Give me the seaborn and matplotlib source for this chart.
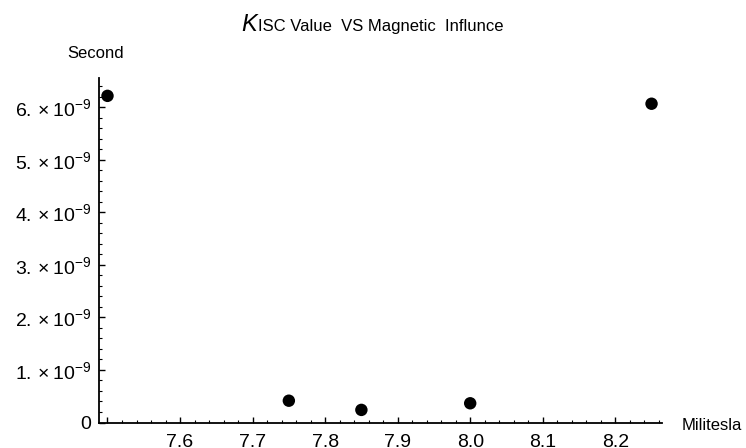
import matplotlib
matplotlib.use("Agg")
import matplotlib.pyplot as plt
import seaborn as sns
import pandas as pd
from matplotlib.ticker import FixedLocator, FuncFormatter, MultipleLocator

# Data
field_mt = [7.5, 7.75, 7.85, 8.0, 8.25]
kisc_sec = [6.22e-9, 0.415e-9, 0.24e-9, 0.366e-9, 6.07e-9]
x_major = [7.5, 7.6, 7.7, 7.8, 7.9, 8.0, 8.1, 8.2]
x_labels = ["", "7.6", "7.7", "7.8", "7.9", "8.0", "8.1", "8.2"]
y_major = [0, 1e-9, 2e-9, 3e-9, 4e-9, 5e-9, 6e-9]

df = pd.DataFrame({"Militesla": field_mt, "Second": kisc_sec})

sns.set_theme(style="white")
plt.rcParams["font.family"] = ["Liberation Sans", "DejaVu Sans"]
plt.rcParams["mathtext.fontset"] = "custom"
plt.rcParams["mathtext.rm"] = "Liberation Sans"
plt.rcParams["mathtext.it"] = "Liberation Sans:italic"
plt.rcParams["text.color"] = "black"
plt.rcParams["xtick.color"] = "black"
plt.rcParams["ytick.color"] = "black"

W, H = 746, 448
fig = plt.figure(figsize=(W / 100, H / 100), dpi=100)
left, right, bottom, top = 98.5, 661.7, 422.5, 78
ax = fig.add_axes([left / W, 1 - bottom / H, (right - left) / W, (bottom - top) / H])

sns.scatterplot(data=df, x="Militesla", y="Second", ax=ax, color="black",
                s=80, edgecolor="none", clip_on=False, zorder=5)

ax.set_xlim(7.4876, 8.264)
ax.set_ylim(0, 6.56e-9)

for s in ["top", "right"]:
    ax.spines[s].set_visible(False)
for s in ["left", "bottom"]:
    ax.spines[s].set_color("black")
    ax.spines[s].set_linewidth(1.3)

ax.xaxis.set_major_locator(FixedLocator(x_major))
ax.set_xticklabels(x_labels)
ax.xaxis.set_minor_locator(MultipleLocator(0.02))
ax.yaxis.set_major_locator(FixedLocator(y_major))
ax.yaxis.set_minor_locator(MultipleLocator(0.2e-9))


def yfmt(v, pos):
    n = round(v / 1e-9)
    if n == 0:
        return "0"
    return r"$%d.\times 10^{-9}$" % n


ax.yaxis.set_major_formatter(FuncFormatter(yfmt))
ax.tick_params(axis="both", which="major", direction="in", length=4, width=1,
               color="black", labelsize=14, labelcolor="black")
ax.tick_params(axis="both", which="minor", direction="in", length=2.5, width=0.8,
               color="black")
ax.tick_params(axis="x", which="major", pad=8)
ax.tick_params(axis="y", which="major", pad=5)
ax.tick_params(which="both", bottom=True, left=True)

ax.set_xlabel("")
ax.set_ylabel("")

fig.text(96 / W, 1 - 54 / H, "Second", ha="center", va="center", fontsize=12)
fig.text(682 / W, 1 - 425 / H, "Militesla", ha="left", va="center", fontsize=12)

fig.text(241 / W, 1 - 31 / H, "K", ha="left", va="baseline", fontsize=17,
         style="italic")
fig.text(258 / W, 1 - 31 / H, "ISC Value  VS Magnetic  Influnce", ha="left",
         va="baseline", fontsize=12)

fig.savefig("out.png", dpi=100)
